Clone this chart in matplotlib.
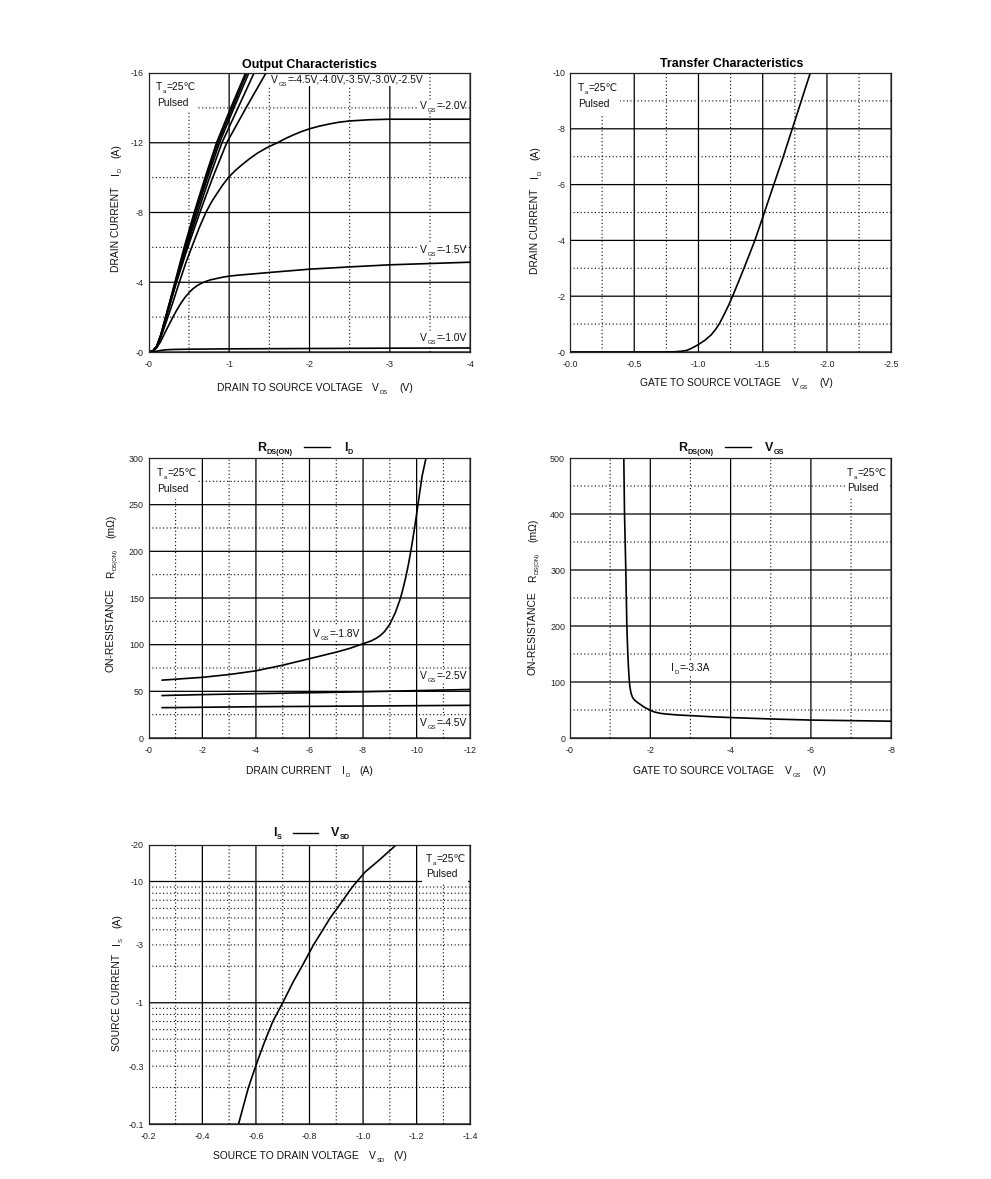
import numpy as np
import matplotlib
matplotlib.use('Agg')
import matplotlib.pyplot as plt
from matplotlib.lines import Line2D
from matplotlib.patches import Rectangle

plt.rcParams['font.family'] = ['Liberation Sans', 'DejaVu Sans', 'Noto Sans CJK SC']

W, H = 991, 1179

# Output characteristics, VDS / ID
vds_45 = [0, -0.05, -0.1, -0.15, -0.2, -0.325, -0.44, -0.565, -0.7, -0.843, -1.02, -1.204]
id_45 = [0, -0.05, -0.35, -1.0, -1.85, -4, -6, -8, -10, -12, -14, -16]
vds_40 = [0, -0.05, -0.1, -0.15, -0.2, -0.33, -0.45, -0.575, -0.715, -0.86, -1.04, -1.22]
id_40 = [0, -0.05, -0.35, -0.98, -1.82, -4, -6, -8, -10, -12, -14, -16]
vds_35 = [0, -0.05, -0.1, -0.15, -0.2, -0.335, -0.46, -0.59, -0.73, -0.88, -1.06, -1.245]
id_35 = [0, -0.05, -0.35, -0.97, -1.8, -4, -6, -8, -10, -12, -14, -16]
vds_30 = [0, -0.05, -0.1, -0.15, -0.2, -0.34, -0.47, -0.61, -0.755, -0.91, -1.11, -1.31]
id_30 = [0, -0.05, -0.33, -0.93, -1.75, -4, -6, -8, -10, -12, -14, -16]
vds_25 = [0, -0.05, -0.1, -0.15, -0.2, -0.345, -0.485, -0.635, -0.795, -0.97, -1.21, -1.458]
id_25 = [0, -0.05, -0.32, -0.92, -1.72, -4, -6, -8, -10, -12, -14, -16]
vds_20 = [0, -0.05, -0.1, -0.15, -0.2, -0.3, -0.38, -0.46, -0.55, -0.63, -0.71, -0.78, -0.85, -0.92, -0.99, -1.07,
          -1.15, -1.25, -1.35, -1.47, -1.6, -1.7, -1.8, -1.9, -2.0, -2.12, -2.25, -2.37, -2.5, -2.75, -3.0, -3.5, -4.0]
id_20 = [0, -0.05, -0.3, -0.85, -1.5, -2.85, -4, -5.1, -6.2, -7.15, -8, -8.6, -9.1, -9.58, -10, -10.38,
         -10.7, -11.07, -11.4, -11.72, -12, -12.24, -12.45, -12.64, -12.8, -12.95, -13.08, -13.18, -13.25,
         -13.32, -13.35, -13.35, -13.35]
vds_15 = [0, -0.05, -0.1, -0.15, -0.2, -0.25, -0.3, -0.35, -0.4, -0.45, -0.5, -0.55, -0.6, -0.65, -0.7, -0.77, -0.85,
          -0.92, -1.0, -1.12, -1.25, -1.5, -2.0, -2.5, -3.0, -4.0]
id_15 = [0, -0.03, -0.25, -0.62, -1.1, -1.55, -2.0, -2.42, -2.8, -3.13, -3.4, -3.63, -3.8, -3.93, -4.03, -4.14, -4.22,
         -4.29, -4.35, -4.41, -4.46, -4.56, -4.75, -4.88, -5.0, -5.15]
vds_10 = [0, -0.05, -0.1, -0.15, -0.2, -0.27, -0.35, -0.5, -1.0, -2.0, -3.0, -4.0]
id_10 = [0, -0.01, -0.05, -0.09, -0.12, -0.14, -0.15, -0.16, -0.18, -0.2, -0.22, -0.23]

# Transfer characteristics, VGS / ID
vgs_tr = [0, -0.75, -0.82, -0.87, -0.91, -0.94, -0.97, -1.0, -1.05, -1.1, -1.135, -1.167, -1.2, -1.235, -1.27, -1.31,
          -1.354, -1.439, -1.513, -1.586, -1.66, -1.73, -1.8, -1.87]
id_tr = [0, 0, -0.01, -0.03, -0.06, -0.12, -0.19, -0.27, -0.42, -0.62, -0.82, -1.05, -1.35, -1.68, -2.05, -2.5,
         -3, -4, -5, -6, -7, -8, -9, -10]

# RDS(ON) vs ID
id_r18 = [-0.5, -1, -2, -3, -4, -5, -6, -7, -7.5, -8, -8.3, -8.5, -8.65, -8.8, -8.9, -9, -9.1, -9.2, -9.3, -9.4, -9.5,
          -9.6, -9.7, -9.8, -9.9, -10, -10.1, -10.2, -10.35]
r_18 = [62, 63, 65, 68, 72, 78, 85, 92, 96, 101, 104, 107, 110, 114, 118, 122, 128, 134, 142, 150, 161,
        173, 187, 203, 221, 240, 260, 280, 300]
id_r25 = [-0.5, -2, -6, -8, -12]
r_25 = [45.5, 46.5, 48.5, 49.5, 52]
id_r45 = [-0.5, -4, -12]
r_45 = [32.5, 33.5, 35]

# RDS(ON) vs VGS
vgs_r = [-1.34, -1.358, -1.39, -1.416, -1.44, -1.457, -1.48, -1.5, -1.52, -1.55, -1.58, -1.65, -1.75, -1.85, -2, -2.1,
         -2.25, -2.4, -2.7, -3, -3.5, -4, -5, -6, -7, -8]
r_vgs = [500, 400, 300, 200, 150, 125, 99, 88, 80, 74, 70, 65, 60, 55, 49.5, 46.5,
         44, 42.8, 41, 40, 38, 36.5, 34, 32, 31, 30]

# IS vs VSD
vsd = [-0.535, -0.572, -0.599, -0.6195, -0.636, -0.6505, -0.663, -0.7, -0.74, -0.772, -0.815, -0.85, -0.877, -0.903,
       -0.925, -0.943, -0.96, -0.977, -1.008, -1.06, -1.123]
i_s = [-0.1, -0.2, -0.3, -0.4, -0.5, -0.6, -0.7, -1, -1.5, -2, -3, -4, -5, -6,
       -7, -8, -9, -10, -12, -15, -20]


def px_x(x):
    return x / W


def px_y(y):
    return 1 - y / H


def make_axes(x0, y0, x1, y1):
    return fig.add_axes([px_x(x0), px_y(y1), (x1 - x0) / W, (y1 - y0) / H])


def style_axes(ax, xlim, ylim, xmajor, xminor, ymajor, yminor, xlabels, ylabels):
    ax.set_xlim(*xlim)
    ax.set_ylim(*ylim)
    ax.set_xticks(xmajor)
    ax.set_xticklabels(xlabels)
    ax.set_xticks(xminor, minor=True)
    ax.set_yticks(ymajor)
    ax.set_yticklabels(ylabels)
    ax.set_yticks(yminor, minor=True)
    ax.yaxis.set_minor_formatter(matplotlib.ticker.NullFormatter())
    ax.set_axisbelow(True)
    ax.grid(True, which='major', color='black', linewidth=0.9, linestyle='-')
    ax.grid(True, which='minor', color='black', linewidth=0.8, linestyle=(0, (1, 2.2)))
    for axis in (ax.xaxis, ax.yaxis):
        for tick in axis.get_major_ticks() + axis.get_minor_ticks():
            tick.gridline.set_snap(False)
    ax.tick_params(which='both', length=0)
    ax.tick_params(axis='x', labelsize=6.4, pad=6, colors='#222222')
    ax.tick_params(axis='y', labelsize=6.4, pad=3.5, colors='#222222')
    for spine in ax.spines.values():
        spine.set_linewidth(0.9)
        spine.set_color('#222222')
        spine.set_zorder(2.5)


def mask(ax, x0, y0, x1, y1):
    ax.add_patch(Rectangle((px_x(x0), px_y(y1)), (x1 - x0) / W, (y1 - y0) / H, transform=fig.transFigure,
                           facecolor='white', edgecolor='none', zorder=1))


def piece(x, y, main, sub='', tail='', size=7.35, sub_size=4.2, rot=0, weight='normal', sub_drop=3):
    # main text + small subscript + rest, x/y is the baseline start in pixels
    renderer = fig.canvas.get_renderer()
    for txt, fs, drop in ((main, size, 0), (sub, sub_size, sub_drop), (tail, size, 0)):
        if not txt:
            continue
        if rot == 90:
            t = fig.text(px_x(x + drop), px_y(y), txt, fontsize=fs, rotation=90, rotation_mode='anchor',
                         ha='left', va='baseline', fontweight=weight, color='#111111')
            y -= t.get_window_extent(renderer).height + 0.5
        else:
            t = fig.text(px_x(x), px_y(y + drop), txt, fontsize=fs, ha='left', va='baseline',
                         fontweight=weight, color='#111111')
            x += t.get_window_extent(renderer).width + 0.5


def dash(x0, x1, y):
    fig.add_artist(Line2D([px_x(x0), px_x(x1)], [px_y(y), px_y(y)], color='black', linewidth=1.0))


fig = plt.figure(figsize=(W / 100, H / 100), dpi=100, facecolor='white')
curve = dict(color='black', linewidth=1.2, zorder=2, solid_joinstyle='round')

# Output characteristics
ax1 = make_axes(148.8, 73, 470.2, 352)
style_axes(ax1, (0, -4), (0, -16), [0, -1, -2, -3, -4], [-0.5, -1.5, -2.5, -3.5],
           [0, -4, -8, -12, -16], [-2, -6, -10, -14],
           ['-0', '-1', '-2', '-3', '-4'], ['-0', '-4', '-8', '-12', '-16'])
for xs, ys in ((vds_45, id_45), (vds_40, id_40), (vds_35, id_35), (vds_30, id_30), (vds_25, id_25),
               (vds_20, id_20), (vds_15, id_15), (vds_10, id_10)):
    ax1.plot(xs, ys, **curve)
mask(ax1, 150, 74, 197, 112)
mask(ax1, 268, 74, 425, 86)
mask(ax1, 418, 100, 465, 112)
mask(ax1, 418, 244, 465, 256)
mask(ax1, 418, 332, 465, 346)

# Transfer characteristics
ax2 = make_axes(570, 73, 891.2, 352)
style_axes(ax2, (0, -2.5), (0, -10), [0, -0.5, -1, -1.5, -2, -2.5], [-0.25, -0.75, -1.25, -1.75, -2.25],
           [0, -2, -4, -6, -8, -10], [-1, -3, -5, -7, -9],
           ['-0.0', '-0.5', '-1.0', '-1.5', '-2.0', '-2.5'], ['-0', '-2', '-4', '-6', '-8', '-10'])
ax2.plot(vgs_tr, id_tr, **curve)
mask(ax2, 571, 74, 620, 115)

# RDS(ON) vs ID
ax3 = make_axes(148.8, 458, 470.2, 738)
style_axes(ax3, (0, -12), (0, 300), [0, -2, -4, -6, -8, -10, -12], [-1, -3, -5, -7, -9, -11],
           [0, 50, 100, 150, 200, 250, 300], [25, 75, 125, 175, 225, 275],
           ['-0', '-2', '-4', '-6', '-8', '-10', '-12'], ['0', '50', '100', '150', '200', '250', '300'])
ax3.plot(id_r18, r_18, **curve)
ax3.plot(id_r25, r_25, **curve)
ax3.plot(id_r45, r_45, **curve)
mask(ax3, 150, 459, 197, 499)
mask(ax3, 311, 626, 358, 640)
mask(ax3, 418, 670, 465, 682)
mask(ax3, 418, 716, 465, 730)

# RDS(ON) vs VGS
ax4 = make_axes(570, 458, 891.2, 738)
style_axes(ax4, (0, -8), (0, 500), [0, -2, -4, -6, -8], [-1, -3, -5, -7],
           [0, 100, 200, 300, 400, 500], [50, 150, 250, 350, 450],
           ['-0', '-2', '-4', '-6', '-8'], ['0', '100', '200', '300', '400', '500'])
ax4.plot(vgs_r, r_vgs, **curve)
mask(ax4, 845, 459, 888, 498)
mask(ax4, 668, 660, 710, 674)

# IS vs VSD, log scale on the magnitude
ax5 = make_axes(148.8, 845, 470.2, 1124)
ax5.set_yscale('log')
style_axes(ax5, (-0.2, -1.4), (0.1, 20), [-0.2, -0.4, -0.6, -0.8, -1.0, -1.2, -1.4],
           [-0.3, -0.5, -0.7, -0.9, -1.1, -1.3],
           [0.1, 0.3, 1, 3, 10, 20], [0.2, 0.4, 0.5, 0.6, 0.7, 0.8, 0.9, 2, 4, 5, 6, 7, 8, 9],
           ['-0.2', '-0.4', '-0.6', '-0.8', '-1.0', '-1.2', '-1.4'], ['-0.1', '-0.3', '-1', '-3', '-10', '-20'])
# -0.3 and -3 are labelled on the axis but drawn as dotted lines
for tick in ax5.yaxis.get_major_ticks():
    if tick.get_loc() in (0.3, 3):
        tick.gridline.set_linestyle((0, (1, 2.2)))
        tick.gridline.set_linewidth(0.8)
ax5.plot(vsd, np.abs(i_s), **curve)
mask(ax5, 422, 846, 468, 884)

# Titles
fig.text(px_x(309), px_y(68), 'Output Characteristics', fontsize=9, fontweight='bold', ha='center', va='baseline')
fig.text(px_x(732), px_y(67), 'Transfer Characteristics', fontsize=9, fontweight='bold', ha='center', va='baseline')
piece(257, 451, 'R', 'DS(ON)', size=9, sub_size=5.2, weight='bold')
dash(304, 330, 447)
piece(344, 451, 'I', 'D', size=9, sub_size=5.2, weight='bold')
piece(678, 451, 'R', 'DS(ON)', size=9, sub_size=5.2, weight='bold')
dash(725, 751, 447)
piece(765, 451, 'V', 'GS', size=9, sub_size=5.2, weight='bold')
piece(273, 836, 'I', 'S', size=9, sub_size=5.2, weight='bold')
dash(293, 318, 833)
piece(331, 836, 'V', 'SD', size=9, sub_size=5.2, weight='bold')

# X axis labels
piece(217, 391, 'DRAIN TO SOURCE VOLTAGE')
piece(372, 391, 'V', 'DS')
piece(399, 391, '(V)')
piece(640, 386, 'GATE TO SOURCE VOLTAGE')
piece(792, 386, 'V', 'GS')
piece(819, 386, '(V)')
piece(246, 774, 'DRAIN CURRENT')
piece(342, 774, 'I', 'D')
piece(359, 774, '(A)')
piece(633, 774, 'GATE TO SOURCE VOLTAGE')
piece(785, 774, 'V', 'GS')
piece(812, 774, '(V)')
piece(213, 1159, 'SOURCE TO DRAIN VOLTAGE')
piece(369, 1159, 'V', 'SD')
piece(393, 1159, '(V)')

# Y axis labels
piece(119, 272, 'DRAIN CURRENT', rot=90)
piece(119, 175, 'I', 'D', rot=90)
piece(119, 158, '(A)', rot=90)
piece(538, 274, 'DRAIN CURRENT', rot=90)
piece(538, 178, 'I', 'D', rot=90)
piece(538, 160, '(A)', rot=90)
piece(114, 672, 'ON-RESISTANCE', rot=90)
piece(114, 578, 'R', 'DS(ON)', rot=90)
piece(114, 538, '(m\u03a9)', rot=90)
piece(536, 675, 'ON-RESISTANCE', rot=90)
piece(536, 582, 'R', 'DS(ON)', rot=90)
piece(536, 542, '(m\u03a9)', rot=90)
piece(120, 1051, 'SOURCE CURRENT', rot=90)
piece(120, 945, 'I', 'S', rot=90)
piece(120, 928, '(A)', rot=90)

# Annotations
for tx, ty in ((156, 90), (578, 91), (157, 476), (847, 476), (426, 862)):
    piece(tx, ty, 'T', 'a', '=25\u2103')
for tx, ty in ((157, 106), (578, 107), (157, 492), (847, 491), (426, 877)):
    piece(tx, ty, 'Pulsed')
piece(271, 83, 'V', 'GS', '=-4.5V,-4.0V,-3.5V,-3.0V,-2.5V')
piece(420, 109, 'V', 'GS', '=-2.0V')
piece(420, 253, 'V', 'GS', '=-1.5V')
piece(420, 341, 'V', 'GS', '=-1.0V')
piece(313, 637, 'V', 'GS', '=-1.8V')
piece(420, 679, 'V', 'GS', '=-2.5V')
piece(420, 726, 'V', 'GS', '=-4.5V')
piece(671, 671, 'I', 'D', '=-3.3A')

fig.savefig('out.png', dpi=100, facecolor='white')
